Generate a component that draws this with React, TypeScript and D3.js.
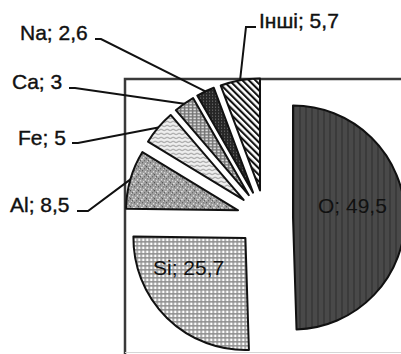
import React from "react";
import * as d3 from "d3";

// ---- data ----
const names = ["O", "Si", "Al", "Fe", "Ca", "Na", "Інші"];
const values = [49.5, 25.7, 8.5, 5, 3, 2.6, 5.7];
const labelTexts = names.map((n, i) => `${n}; ${String(values[i]).replace(".", ",")}`);

// ---- layout (positions / styles) ----
const W = 401;
const H = 354;
const CX = 265;
const CY = 218;
const R = 112;
const EXPLODE = 28;
const FONT = "'Liberation Sans', Arial, sans-serif";
const FS = 21;

// label text position [x, baseline y, anchor]
const labelPos: [number, number, string][] = [
  [318, 213, "start"], // O
  [153, 275, "start"], // Si
  [10, 212, "start"], // Al
  [18, 145, "start"], // Fe
  [12, 89, "start"], // Ca
  [20, 40, "start"], // Na
  [259, 28, "start"], // Інші
];
// leader: [startX, elbowX, y] or null
const leaders: ([number, number, number] | null)[] = [
  null,
  null,
  [77, 88, 211],
  [72, 78, 143],
  [69, 75, 88],
  [95, 101, 39],
  [256, 246, 27],
];
const fills = [
  "url(#pO)",
  "url(#pSi)",
  "url(#pAl)",
  "url(#pFe)",
  "url(#pCa)",
  "url(#pNa)",
  "url(#pOther)",
];

export default function App() {
  const pie = d3
    .pie<number>()
    .sort(null)
    .value((d) => d);
  const arcs = pie(values);
  const arcGen = d3
    .arc<d3.PieArcDatum<number>>()
    .innerRadius(0)
    .outerRadius(R);

  return (
    <svg
      width={W}
      height={H}
      style={{ position: "absolute", left: 0, top: 0, background: "#fff" }}
    >
      <defs>
        <pattern id="pO" width="6" height="6" patternUnits="userSpaceOnUse">
          <rect width="6" height="6" fill="#494949" />
          <rect x="0" width="2" height="6" fill="#3b3b3b" />
        </pattern>
        <pattern id="pSi" width="4" height="4" patternUnits="userSpaceOnUse">
          <rect width="4" height="4" fill="#8e8e8e" />
          <rect x="0.6" y="0.6" width="2.5" height="2.5" fill="#ffffff" />
        </pattern>
        <pattern id="pAl" width="8" height="8" patternUnits="userSpaceOnUse">
          <rect width="8" height="8" fill="#a0a0a0" />
          <rect x="0" y="0" width="1" height="1" fill="#444" />
          <rect x="3" y="1" width="1" height="1" fill="#fff" />
          <rect x="5" y="0" width="1" height="1" fill="#555" />
          <rect x="1" y="3" width="1" height="1" fill="#fff" />
          <rect x="6" y="2" width="1" height="1" fill="#eee" />
          <rect x="4" y="4" width="1" height="1" fill="#333" />
          <rect x="2" y="6" width="1" height="1" fill="#555" />
          <rect x="7" y="5" width="1" height="1" fill="#fff" />
          <rect x="5" y="7" width="1" height="1" fill="#eee" />
          <rect x="0" y="5" width="1" height="1" fill="#ddd" />
          <rect x="3" y="3" width="1" height="1" fill="#666" />
          <rect x="6" y="6" width="1" height="1" fill="#444" />
        </pattern>
        <pattern id="pFe" width="6" height="4" patternUnits="userSpaceOnUse">
          <rect width="6" height="4" fill="#f0f0f0" />
          <path d="M0 2 Q1.5 0.6 3 2 T6 2" fill="none" stroke="#888" strokeWidth="1" />
        </pattern>
        <pattern id="pCa" width="4" height="3" patternUnits="userSpaceOnUse">
          <rect width="4" height="3" fill="#747474" />
          <rect x="0.5" y="0.5" width="2.5" height="1.6" fill="#e6e6e6" />
        </pattern>
        <pattern id="pNa" width="3" height="3" patternUnits="userSpaceOnUse">
          <rect width="3" height="3" fill="#262626" />
          <rect x="1" y="1" width="1" height="1" fill="#808080" />
        </pattern>
        <pattern
          id="pOther"
          width="4.6"
          height="4.6"
          patternUnits="userSpaceOnUse"
          patternTransform="rotate(-45)"
        >
          <rect width="4.6" height="4.6" fill="#fff" />
          <rect x="0" width="2.1" height="4.6" fill="#111" />
        </pattern>
      </defs>

      {/* plot area box */}
      <rect
        x={125}
        y={79}
        width={W}
        height={H}
        fill="none"
        stroke="#3a3a3a"
        strokeWidth={2.5}
      />
      <line x1={125} x2={W} y1={352.5} y2={352.5} stroke="#d6d6d6" strokeWidth={1} />

      {arcs.map((a, i) => {
        const mid = (a.startAngle + a.endAngle) / 2;
        const dx = Math.sin(mid) * EXPLODE;
        const dy = -Math.cos(mid) * EXPLODE;
        return (
          <path
            key={i}
            d={arcGen(a) || ""}
            transform={`translate(${CX + dx},${CY + dy})`}
            fill={fills[i]}
            stroke="#111"
            strokeWidth={2}
            strokeLinejoin="round"
          />
        );
      })}

      {arcs.map((a, i) => {
        const ld = leaders[i];
        if (!ld) return null;
        const mid = (a.startAngle + a.endAngle) / 2;
        const ex = CX + Math.sin(mid) * (EXPLODE + R);
        const ey = CY - Math.cos(mid) * (EXPLODE + R);
        const [sx, elx, y] = ld;
        return (
          <polyline
            key={"l" + i}
            points={`${sx},${y} ${elx},${y} ${ex},${ey}`}
            fill="none"
            stroke="#111"
            strokeWidth={2}
          />
        );
      })}

      {labelTexts.map((t, i) => (
        <text
          key={"t" + i}
          x={labelPos[i][0]}
          y={labelPos[i][1]}
          textAnchor={labelPos[i][2] as any}
          fontFamily={FONT}
          fontSize={FS}
          fill="#111"
          stroke={i < 2 ? "none" : "#111"}
          strokeWidth={0.4}
        >
          {t}
        </text>
      ))}
    </svg>
  );
}
